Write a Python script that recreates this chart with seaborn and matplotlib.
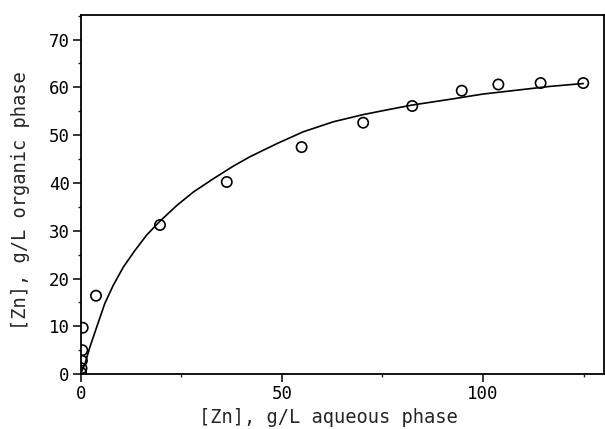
import matplotlib
matplotlib.use("Agg")
import matplotlib.pyplot as plt
import seaborn as sns
import pandas as pd
from matplotlib.ticker import MultipleLocator

# Measured data points (open circles)
aq_pts = [0.1, 0.2, 0.3, 0.4, 0.5, 3.8, 19.7, 36.3, 54.9, 70.2, 82.4, 94.7, 103.8, 114.3, 124.9]
org_pts = [0.3, 1.2, 2.8, 5.0, 9.7, 16.4, 31.2, 40.2, 47.5, 52.6, 56.1, 59.3, 60.6, 60.9, 60.9]

# Fitted isotherm curve
aq_curve = [0.0, 1.07, 2.3, 4.0, 6.0, 8.1, 10.6, 13.5, 16.4, 19.7, 23.9, 28.0, 33.0,
            37.9, 42.1, 48.7, 55.3, 62.8, 70.2, 76.8, 82.4, 91.8, 100.0, 108.3,
            116.6, 124.9]
org_curve = [0.0, 2.2, 5.7, 9.9, 14.8, 18.6, 22.4, 25.9, 29.1, 32.0, 35.3, 38.1, 40.9,
             43.5, 45.5, 48.2, 50.7, 52.8, 54.3, 55.4, 56.3, 57.5, 58.6, 59.4,
             60.2, 60.8]

x_major = [0, 50, 100]
y_major = [0, 10, 20, 30, 40, 50, 60, 70]

sns.set_style("ticks")
plt.rcParams["font.family"] = ["DejaVu Sans Mono", "DejaVu Sans"]

pts = pd.DataFrame({"aq": aq_pts, "org": org_pts})
crv = pd.DataFrame({"aq": aq_curve, "org": org_curve})

fig = plt.figure(figsize=(6.05, 4.29), dpi=100)
ax = fig.add_axes([0.1334, 0.128, 0.8646, 0.8377])

sns.lineplot(data=crv, x="aq", y="org", ax=ax, color="black", linewidth=1.2,
             sort=True, estimator=None)
sns.scatterplot(data=pts, x="aq", y="org", ax=ax, marker="o", s=55,
                facecolor="none", edgecolor="black", linewidth=1.2, zorder=3)

ax.set_xlim(0, 130)
ax.set_ylim(0, 75.2)
ax.set_xticks(x_major)
ax.set_yticks(y_major)
ax.xaxis.set_minor_locator(MultipleLocator(25))
ax.yaxis.set_minor_locator(MultipleLocator(5))
ax.tick_params(which="major", direction="out", length=6, width=1.1,
               labelsize=12.5, pad=1.8, colors="black")
ax.tick_params(which="minor", direction="out", length=2.5, width=1.0)

for sp in ax.spines.values():
    sp.set_visible(True)
    sp.set_linewidth(1.3)
    sp.set_color("black")

ax.set_xlabel("[Zn], g/L aqueous phase", fontsize=13.5)
ax.set_ylabel("[Zn], g/L organic phase", fontsize=13.5)
ax.xaxis.set_label_coords(0.473, -0.094)
ax.yaxis.set_label_coords(-0.097, 0.484)

fig.savefig("out.png", dpi=100)
